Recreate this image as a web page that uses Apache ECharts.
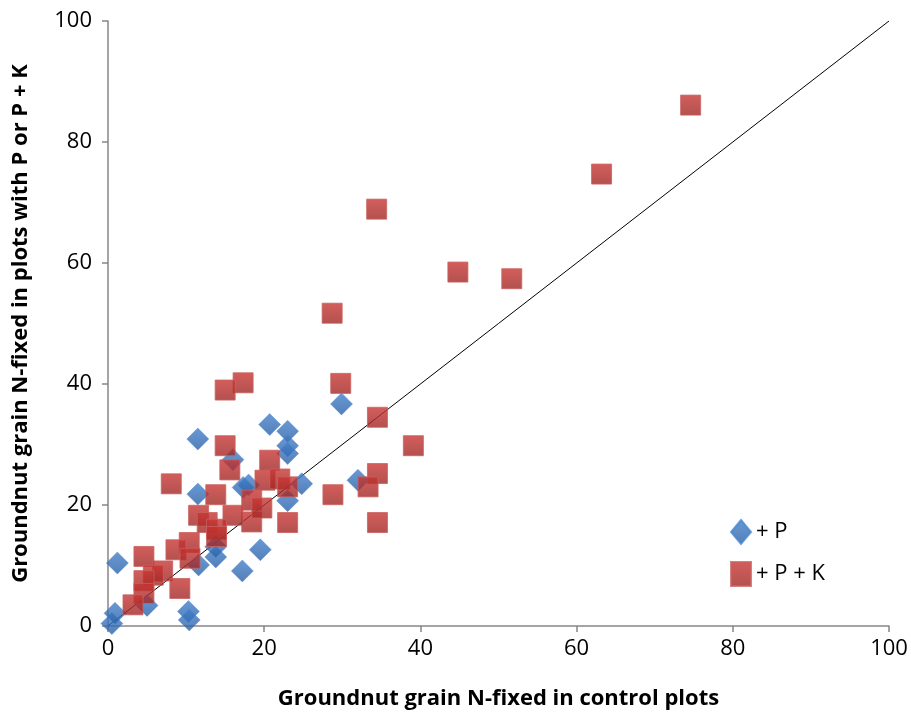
<!DOCTYPE html>
<html>
<head>
<meta charset="utf-8">
<script src="https://cdn.jsdelivr.net/npm/echarts@6/dist/echarts.min.js"></script>
<style>
  html, body { margin: 0; padding: 0; background: #fff; }
  #chart { width: 911px; height: 715px; }
</style>
</head>
<body>
<div id="chart"></div>
<script>
// control plot N-fixed (x) vs N-fixed with +P (y)
var pX = [0.5, 0.9, 1.2, 5.0, 10.3, 10.4, 11.5, 11.5, 11.6, 13.8, 13.8, 17.2, 19.5,
          16.0, 17.3, 18.0, 20.7, 23.0, 23.0, 23.0, 24.8, 23.0, 29.9, 32.0];
var pY = [0.4, 2.1, 10.4, 3.4, 2.4, 1.0, 30.9, 21.8, 10.1, 11.4, 13.1, 9.1, 12.6,
          27.5, 22.9, 23.3, 33.3, 32.2, 29.8, 28.5, 23.5, 20.7, 36.7, 24.1];

// control plot N-fixed (x) vs N-fixed with +P +K (y)
var pkX = [74.6, 63.2, 51.7, 44.8, 34.4, 28.7, 29.8, 34.5, 39.1, 34.5, 34.5, 33.3, 28.8,
           17.3, 15.0, 15.0, 15.6, 8.1, 20.7, 20.1, 22.0, 23.0, 23.0, 18.4, 18.4, 19.7,
           13.8, 16.0, 11.6, 12.7, 13.9, 13.9, 10.4, 8.7, 10.5, 4.6, 7.0, 5.8, 4.6, 4.6,
           9.2, 3.2];
var pkY = [86.1, 74.7, 57.4, 58.5, 68.9, 51.7, 40.1, 34.5, 29.8, 25.2, 17.1, 23.0, 21.7,
           40.2, 39.0, 29.8, 25.8, 23.5, 27.4, 24.1, 24.3, 23.0, 17.1, 20.8, 17.2, 19.5,
           21.7, 18.3, 18.3, 17.1, 16.0, 14.8, 13.8, 12.6, 11.2, 11.5, 9.1, 8.4, 7.5, 5.4,
           6.2, 3.5];

function pairs(xs, ys) {
  return xs.map(function (x, i) { return [x, ys[i]]; });
}

var chart = echarts.init(document.getElementById('chart'));

var blueFill = new echarts.graphic.LinearGradient(0, 0, 0, 1, [
  { offset: 0, color: '#4280cc' },
  { offset: 1, color: '#2a5fa5' }
]);
var redFill = new echarts.graphic.LinearGradient(0, 0, 0, 1, [
  { offset: 0, color: '#c93532' },
  { offset: 1, color: '#9f2624' }
]);

var axisFont = { fontFamily: 'Open Sans', fontSize: 22, color: '#000' };
var titleFont = { fontFamily: 'Open Sans', fontSize: 22, fontWeight: 'bold', color: '#000' };

chart.setOption({
  backgroundColor: '#fff',
  animation: false,
  grid: { left: 108, right: 22, top: 21, bottom: 89, outerBoundsMode: 'none', containLabel: false },
  legend: {
    orient: 'vertical',
    left: 725,
    top: 514,
    itemGap: 16,
    itemWidth: 20,
    itemHeight: 24,
    textStyle: { fontFamily: 'Open Sans', fontSize: 22, color: '#000' },
    data: ['+ P', '+ P + K']
  },
  xAxis: {
    type: 'value',
    min: 0, max: 100, interval: 20,
    name: 'Groundnut grain N-fixed in control plots',
    nameLocation: 'middle',
    nameGap: 62,
    nameTextStyle: titleFont,
    axisLine: { lineStyle: { color: '#868686', width: 1.5 } },
    axisTick: { show: true, length: 6, lineStyle: { color: '#868686', width: 1.5 } },
    axisLabel: Object.assign({ margin: 12 }, axisFont),
    splitLine: { show: false }
  },
  yAxis: {
    type: 'value',
    min: 0, max: 100, interval: 20,
    name: 'Groundnut grain N-fixed in plots with P or P + K',
    nameLocation: 'middle',
    nameGap: 76,
    nameTextStyle: titleFont,
    axisLine: { show: true, lineStyle: { color: '#868686', width: 1.5 } },
    axisTick: { show: true, length: 6, lineStyle: { color: '#868686', width: 1.5 } },
    axisLabel: Object.assign({ margin: 16 }, axisFont),
    splitLine: { show: false }
  },
  series: [
    {
      name: '1:1',
      type: 'line',
      data: [[0, 0], [100, 100]],
      symbol: 'none',
      silent: true,
      lineStyle: { color: '#000', width: 1 },
      z: 1
    },
    {
      name: '+ P',
      type: 'scatter',
      symbol: 'diamond',
      symbolSize: [22, 22],
      data: pairs(pX, pY),
      itemStyle: { color: blueFill, borderColor: '#4a88cf', borderWidth: 0.5 },
      z: 2
    },
    {
      name: '+ P + K',
      type: 'scatter',
      symbol: 'rect',
      symbolSize: 20,
      data: pairs(pkX, pkY),
      itemStyle: { color: redFill, borderColor: '#c9625f', borderWidth: 1 },
      z: 3
    }
  ]
});
</script>
</body>
</html>
